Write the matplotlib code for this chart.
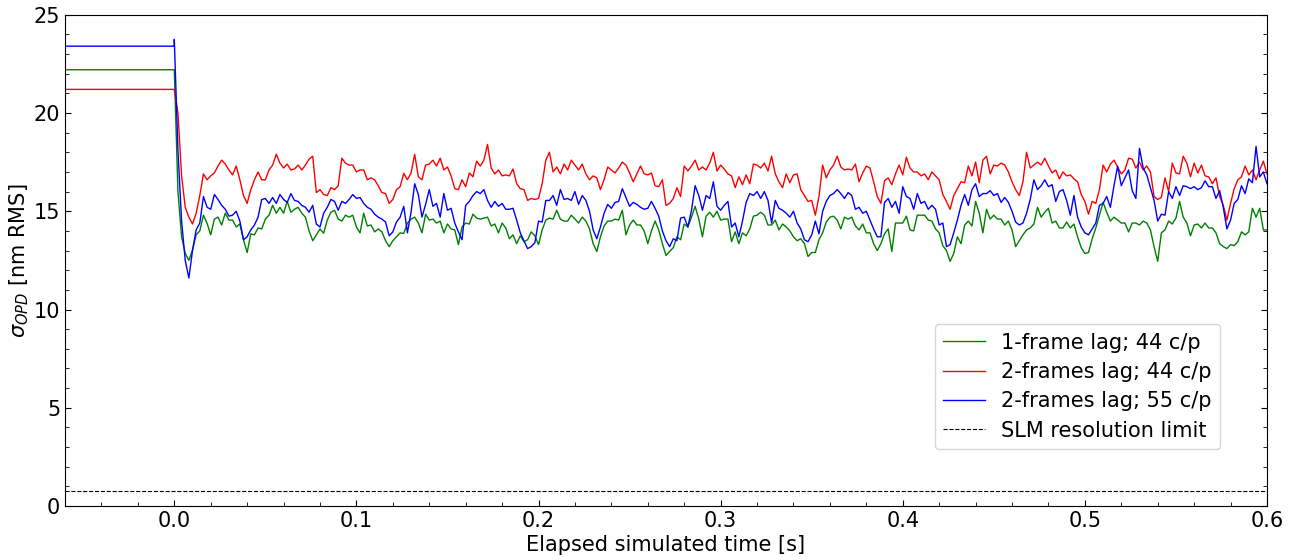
import numpy as np
import matplotlib
matplotlib.use("Agg")
import matplotlib.pyplot as plt
from matplotlib.ticker import MultipleLocator

# samples read every 2 ms: *_even at 0, 4, 8 ... ms, *_odd at 2, 6, 10 ... ms
t_start = -0.06
half_step = 0.002
t_end = 0.6
slm_limit = 0.75

# value held before the loop is closed at t = 0
pre_green = 22.2
pre_red = 21.2
pre_blue = 23.4

green_even = [
    22.2, 13.7, 12.5, 13.8, 14.8, 13.8, 14.7, 14.9, 14.55, 14.35,
    12.9, 13.8, 14.1, 14.8, 14.9, 14.9, 14.95, 15.2, 14.7, 13.5,
    14.1, 14.55, 15.05, 14.5, 14.7, 14.2, 14.9, 14.3, 14.1, 13.5,
    13.5, 13.9, 14.4, 14.7, 13.9, 14.55, 14.4, 13.9, 14.1, 13.3,
    14.4, 14.85, 14.6, 14.7, 14.35, 14.4, 13.6, 13.35, 13.45, 13.95,
    13.3, 14.55, 14.6, 14.6, 14.5, 14.6, 14.7, 14.1, 12.95, 14.25,
    14.5, 14.55, 13.8, 14.55, 14.3, 13.35, 14.5, 13.35, 12.95, 13.7,
    14.35, 14.7, 14.6, 14.75, 14.7, 14.55, 14.6, 13.95, 13.9, 14.1,
    14.8, 14.8, 14.3, 14.05, 14.2, 13.7, 13.6, 12.7, 12.9, 13.9,
    14.7, 14.55, 14.7, 14.7, 14.05, 13.9, 13.35, 13.35, 14.1, 14.4,
    14.4, 14.05, 14.8, 14.8, 14.5, 13.9, 13.0, 12.85, 13.35, 14.5,
    15.5, 13.9, 14.6, 14.6, 14.3, 14.05, 13.5, 14.05, 14.35, 14.7,
    15.15, 14.5, 14.15, 14.15, 13.7, 12.85, 13.6, 14.8, 14.95, 14.7,
    14.4, 13.95, 14.4, 14.5, 14.05, 12.45, 14.05, 14.35, 15.5, 14.4,
    14.3, 14.15, 14.15, 13.9, 13.2, 13.3, 13.45, 13.8, 15.15, 15.15,
    14.05,
]
green_odd = [
    16.0, 12.86, 13.03, 14.0, 14.38, 14.6, 14.3, 14.55, 14.2, 13.54,
    13.85, 14.15, 14.6, 15.3, 15.2, 15.5, 15.1, 14.9, 14.0, 13.8,
    13.88, 14.95, 14.6, 14.8, 14.8, 13.9, 14.25, 13.95, 13.95, 13.2,
    13.7, 13.87, 14.6, 14.4, 14.85, 14.6, 14.5, 14.35, 14.05, 14.2,
    14.35, 14.65, 14.65, 14.25, 13.9, 14.15, 13.8, 13.75, 13.55, 13.75,
    14.05, 14.65, 15.05, 14.5, 14.8, 14.4, 14.5, 13.35, 13.7, 14.5,
    14.6, 15.05, 14.3, 14.3, 14.0, 14.0, 14.05, 12.75, 13.15, 13.55,
    14.2, 15.25, 13.7, 14.95, 15.0, 14.6, 13.45, 13.35, 13.75, 14.75,
    14.95, 14.3, 14.55, 14.35, 14.0, 13.5, 13.35, 12.9, 13.55, 14.45,
    14.75, 14.1, 14.6, 14.25, 14.35, 13.9, 13.0, 13.85, 12.95, 14.4,
    14.75, 14.0, 14.8, 14.55, 14.1, 13.25, 12.45, 13.7, 14.3, 14.25,
    14.9, 15.1, 14.8, 14.6, 14.5, 13.2, 13.8, 14.15, 15.2, 14.95,
    14.4, 14.15, 14.45, 14.35, 13.15, 12.9, 14.15, 15.45, 14.5, 14.55,
    14.4, 14.4, 14.3, 14.4, 13.2, 13.9, 14.5, 14.65, 14.7, 13.75,
    14.35, 14.4, 14.15, 13.35, 13.1, 13.25, 13.95, 13.95, 14.7, 14.05,
]

red_even = [
    21.2, 16.8, 14.7, 14.9, 16.9, 16.8, 17.3, 17.4, 16.85, 16.6,
    15.4, 16.6, 16.6, 17.1, 17.9, 17.2, 17.1, 17.35, 17.35, 17.8,
    16.1, 15.8, 16.1, 17.7, 17.35, 17.0, 17.1, 16.7, 16.3, 15.9,
    15.6, 16.25, 16.6, 17.9, 16.6, 17.4, 17.3, 17.1, 16.8, 16.1,
    16.25, 16.75, 17.3, 18.4, 16.9, 16.8, 16.8, 16.4, 16.1, 15.65,
    15.65, 17.6, 17.0, 16.9, 17.1, 17.35, 17.4, 16.6, 16.7, 16.6,
    17.1, 17.2, 17.35, 16.5, 17.3, 16.85, 16.3, 16.6, 15.4, 16.2,
    17.3, 17.3, 17.1, 17.1, 18.0, 17.35, 16.9, 16.2, 16.35, 16.4,
    17.35, 17.45, 17.8, 16.5, 16.9, 16.85, 16.1, 15.5, 14.8, 17.35,
    17.1, 17.8, 17.1, 17.1, 16.5, 17.3, 16.5, 15.4, 16.7, 16.9,
    16.85, 17.2, 17.0, 16.9, 17.0, 16.6, 15.5, 15.8, 16.5, 17.3,
    17.5, 17.6, 16.9, 17.3, 17.35, 16.5, 15.8, 18.0, 17.35, 17.35,
    17.3, 17.1, 17.0, 16.85, 16.5, 15.5, 15.5, 16.1, 17.0, 17.6,
    16.9, 17.7, 17.2, 17.1, 17.0, 15.6, 16.7, 17.45, 16.9, 17.45,
    17.45, 17.35, 16.75, 16.7, 15.3, 15.4, 16.6, 17.3, 17.1, 17.1,
    16.9,
]
red_odd = [
    20.0, 15.2, 14.35, 15.8, 16.6, 16.95, 17.6, 17.1, 17.3, 15.8,
    16.1, 17.0, 16.6, 17.35, 17.45, 17.4, 17.15, 17.1, 17.65, 15.95,
    15.85, 16.2, 16.3, 17.45, 17.35, 17.1, 16.6, 16.6, 15.95, 15.4,
    16.1, 16.93, 16.95, 16.75, 17.35, 17.6, 17.7, 17.25, 16.15, 16.6,
    16.95, 17.55, 17.6, 17.2, 17.1, 16.85, 17.15, 16.15, 15.55, 15.6,
    16.4, 18.0, 17.25, 17.4, 17.6, 17.1, 16.9, 16.8, 16.1, 17.25,
    16.95, 17.5, 16.95, 16.9, 16.9, 16.95, 16.25, 15.3, 15.65, 15.75,
    17.05, 17.6, 17.25, 17.45, 17.05, 17.15, 16.8, 16.75, 16.85, 17.4,
    17.2, 17.05, 16.9, 16.2, 16.45, 16.9, 15.8, 15.55, 15.75, 16.7,
    17.35, 17.25, 17.15, 17.4, 16.95, 17.2, 15.75, 16.55, 16.35, 17.35,
    17.75, 17.0, 16.8, 16.6, 16.8, 15.85, 15.1, 16.15, 16.45, 16.8,
    16.45, 17.8, 17.35, 17.45, 17.0, 16.1, 16.5, 17.2, 17.5, 17.7,
    16.95, 16.65, 16.8, 16.65, 15.85, 14.85, 15.4, 17.35, 17.4, 17.25,
    17.1, 17.65, 17.5, 17.3, 15.75, 15.7, 16.0, 16.95, 17.8, 16.75,
    16.95, 16.8, 16.4, 15.75, 14.55, 16.15, 16.75, 16.85, 16.6, 17.55,
]

blue_even = [
    23.75, 14.5, 11.6, 14.05, 15.75, 15.1, 15.6, 15.1, 14.8, 14.5,
    13.7, 14.3, 15.6, 15.4, 15.4, 15.6, 15.9, 15.5, 15.2, 15.3,
    14.2, 15.2, 15.5, 15.5, 15.6, 15.65, 15.4, 15.1, 14.7, 14.45,
    13.95, 14.7, 13.9, 16.4, 14.7, 16.1, 15.4, 15.9, 15.15, 13.95,
    15.3, 15.8, 15.9, 15.55, 15.5, 15.4, 15.1, 14.55, 13.5, 13.2,
    14.5, 15.55, 15.8, 16.1, 15.65, 16.0, 15.8, 15.0, 13.6, 14.9,
    15.15, 15.5, 15.7, 15.45, 15.2, 15.15, 15.15, 14.0, 13.2, 13.5,
    14.7, 15.05, 15.8, 15.8, 16.5, 15.05, 15.5, 14.4, 14.5, 15.9,
    16.0, 16.0, 14.4, 15.15, 14.9, 15.0, 14.1, 13.45, 14.5, 15.0,
    15.8, 16.1, 15.65, 15.8, 15.2, 15.0, 14.1, 13.7, 15.65, 15.5,
    16.25, 15.65, 15.9, 15.5, 15.3, 14.3, 13.2, 13.9, 15.3, 15.3,
    16.4, 15.9, 16.05, 15.9, 15.7, 15.0, 14.3, 14.9, 16.6, 16.3,
    16.25, 15.5, 16.1, 14.8, 14.7, 13.9, 14.1, 15.3, 15.75, 16.3,
    16.3, 17.1, 15.65, 17.2, 16.2, 14.5, 14.8, 15.65, 15.8, 16.25,
    16.25, 16.2, 16.25, 15.65, 15.2, 14.55, 15.6, 15.9, 16.45, 16.75,
    16.4,
]
blue_odd = [
    18.1, 12.5, 13.0, 14.4, 15.2, 15.85, 15.3, 14.75, 15.0, 13.55,
    14.05, 14.7, 15.65, 15.7, 15.85, 15.45, 15.55, 15.3, 14.95, 14.35,
    14.9, 15.6, 15.05, 15.4, 15.85, 15.7, 15.2, 14.85, 14.6, 13.75,
    14.45, 15.25, 14.95, 15.85, 15.35, 15.25, 14.7, 15.05, 14.4, 13.55,
    15.5, 16.0, 16.1, 15.2, 15.25, 15.1, 15.15, 13.9, 13.1, 13.4,
    14.45, 15.55, 15.3, 15.6, 15.55, 15.35, 15.55, 14.05, 14.2, 15.35,
    15.45, 16.15, 15.25, 15.35, 15.1, 15.5, 14.75, 13.5, 13.6, 14.65,
    14.2, 16.3, 15.05, 15.65, 15.25, 15.3, 14.2, 13.7, 15.45, 15.8,
    15.65, 15.55, 15.55, 15.05, 14.7, 14.4, 13.55, 13.8, 13.85, 15.5,
    15.9, 15.9, 15.95, 15.1, 14.9, 14.55, 13.7, 15.45, 15.2, 14.9,
    15.75, 15.1, 15.4, 15.1, 15.1, 14.4, 13.3, 14.55, 15.85, 16.1,
    15.75, 15.9, 15.8, 15.45, 15.45, 14.45, 14.4, 15.6, 16.1, 16.6,
    16.35, 16.0, 15.55, 15.8, 14.2, 13.8, 14.4, 15.4, 15.2, 17.3,
    16.7, 16.05, 18.2, 16.85, 15.55, 14.85, 16.0, 16.25, 16.3, 16.15,
    16.1, 16.55, 16.25, 16.05, 14.1, 15.4, 16.3, 16.65, 18.3, 17.0,
]

labels = ["1-frame lag; 44 c/p", "2-frames lag; 44 c/p",
          "2-frames lag; 55 c/p", "SLM resolution limit"]


def merge(even, odd):
    out = np.empty(len(even) + len(odd))
    out[0::2] = even
    out[1::2] = odd
    return out


n = len(green_even) + len(green_odd)
# flat segment before t = 0, then the 2 ms samples
t = np.concatenate([[t_start, 0.0], np.arange(n) * half_step])

fig = plt.figure(figsize=(12.98, 5.6), dpi=100)
ax = fig.add_axes([0.0501, 0.0964, 0.926, 0.8773])

series = [(pre_green, green_even, green_odd, "green"),
          (pre_red, red_even, red_odd, "red"),
          (pre_blue, blue_even, blue_odd, "blue")]
for (pre, even, odd, color), label in zip(series, labels):
    y = np.concatenate([[pre, pre], merge(even, odd)])
    ax.plot(t, y, color=color, lw=1.0, label=label)

ax.axhline(slm_limit, color="black", linestyle="--", lw=0.8, label=labels[3])

ax.set_xlim(t_start, t_end)
ax.set_ylim(0, 25)
ax.xaxis.set_major_locator(MultipleLocator(0.1))
ax.xaxis.set_minor_locator(MultipleLocator(0.02))
ax.yaxis.set_major_locator(MultipleLocator(5))
ax.yaxis.set_minor_locator(MultipleLocator(1))
ax.tick_params(which="both", direction="in", right=True, top=False,
               labelsize=15)
ax.tick_params(which="major", length=4.5)
ax.tick_params(which="minor", length=2.8)

ax.set_xlabel("Elapsed simulated time [s]", fontsize=15, labelpad=3)
ax.set_ylabel(r"$\sigma_{OPD}$ [nm RMS]", fontsize=15, labelpad=2)

ax.legend(loc="lower right", bbox_to_anchor=(0.961, 0.116),
          borderaxespad=0, fontsize=15, labelspacing=0.45)

fig.savefig("out.png", dpi=100)
